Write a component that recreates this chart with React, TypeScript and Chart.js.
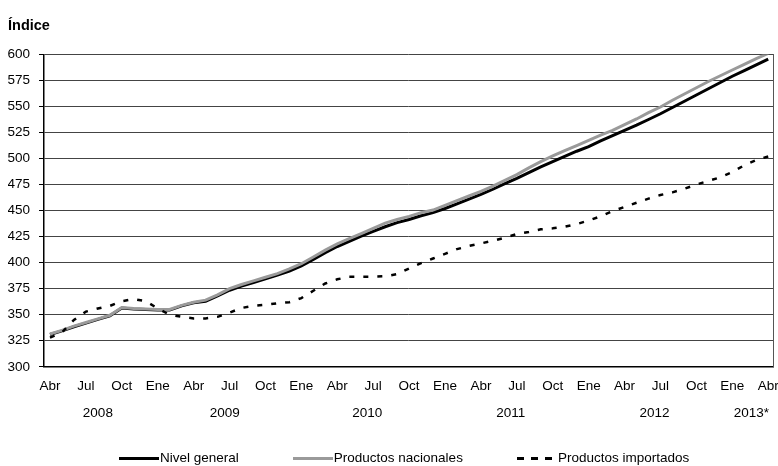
import React, { useEffect, useRef } from 'react';
import { Chart, registerables } from 'chart.js';

Chart.register(...registerables);

// X-axis tick labels (every 3 months, Abr 2008 .. Abr 2013)
const monthTickLabels = [
  'Abr', 'Jul', 'Oct', 'Ene', 'Abr', 'Jul', 'Oct', 'Ene', 'Abr', 'Jul', 'Oct',
  'Ene', 'Abr', 'Jul', 'Oct', 'Ene', 'Abr', 'Jul', 'Oct', 'Ene', 'Abr',
];
const yearLabels = ['2008', '2009', '2010', '2011', '2012', '2013*'];
// month index (0 = Abr 2008) under which each year label sits
const yearTickPositions = [4, 14.6, 26.5, 38.5, 50.5, 58.6];

const seriesNames = ['Nivel general', 'Productos nacionales', 'Productos importados'];

// Monthly values, Abr 2008 .. Abr 2013 (61 months)
const nivelGeneral = [
  331, 334.5, 338.5, 342, 345.5, 349, 356.5, 355.5, 355, 354.5,
  354.5, 358.5, 361.5, 363, 368, 373.5, 377.5, 381, 384.5, 388,
  392, 397, 403, 409.5, 415.5, 420.5, 425.5, 430, 434.5, 438.5,
  441.5, 445, 448, 452, 456.5, 461, 465.5, 470.5, 476, 481,
  486.5, 492, 497, 502, 507, 511.5, 517, 522, 527, 532,
  537.5, 543, 549, 555, 561, 567, 573, 579, 584.5, 590,
  595.5,
];
const productosNacionales = [
  331.5, 335, 339, 342.5, 346, 349.5, 357, 356, 355.5, 355,
  355, 359, 362, 364, 369, 375, 379, 382.5, 386, 389.5,
  394, 399, 405.5, 412, 418, 423, 428, 433, 438, 441.5,
  444.5, 448, 450.5, 455, 459.5, 464, 468.5, 473.5, 479, 484.5,
  491, 497, 502.5, 507.5, 512.5, 517.5, 522.5, 527, 532.5, 538,
  544, 549.5, 556, 562, 568, 574, 579.5, 585, 590.5, 596,
  601,
];
const productosImportados = [
  328, 333, 345, 353, 356, 358.5, 363, 365, 363, 356,
  350, 348, 346.5, 346.5, 348, 352, 356.5, 358.5, 359.5, 361,
  362, 366, 373, 380, 384, 386.5, 386.5, 386.5, 387, 389,
  394.5, 399.5, 404, 408.5, 413, 416, 418.5, 421, 424, 427.5,
  429.5, 432, 433, 434.5, 437, 440.5, 444.5, 449.5, 453.5, 457.5,
  461.5, 465, 467.5, 471, 475, 478.5, 482, 487, 493.5, 498.5,
  502,
];

const FONT = "'Liberation Sans', Arial, Helvetica, sans-serif";

const toPoints = (arr: number[]) => arr.map((y, i) => ({ x: i, y }));

const legendItems = [
  { name: seriesNames[0], sample: { background: '#000' } },
  { name: seriesNames[1], sample: { background: '#9a9a9a' } },
  {
    name: seriesNames[2],
    sample: { background: 'repeating-linear-gradient(to right, #000 0px, #000 7px, transparent 7px, transparent 14px)' },
  },
];

const noSidePadding = (s: any) => {
  s.paddingLeft = 0;
  s.paddingRight = 0;
};

export default function App() {
  const canvasRef = useRef<HTMLCanvasElement | null>(null);

  useEffect(() => {
    document.body.style.margin = '0';
    const canvas = canvasRef.current;
    if (!canvas) return;
    Chart.defaults.font.family = FONT;
    Chart.defaults.color = '#000';

    const chart = new Chart(canvas, {
      type: 'line',
      data: {
        datasets: [
          {
            label: seriesNames[0],
            data: toPoints(nivelGeneral),
            borderColor: '#000',
            backgroundColor: '#000',
            borderWidth: 3,
            pointRadius: 0,
            tension: 0,
            order: 2,
          },
          {
            label: seriesNames[1],
            data: toPoints(productosNacionales),
            borderColor: '#9a9a9a',
            backgroundColor: '#9a9a9a',
            borderWidth: 3,
            pointRadius: 0,
            tension: 0,
            order: 1,
          },
          {
            label: seriesNames[2],
            data: toPoints(productosImportados),
            borderColor: '#000',
            backgroundColor: '#000',
            borderWidth: 2.5,
            borderDash: [5, 9],
            pointRadius: 0,
            tension: 0,
            order: 0,
          },
        ],
      },
      options: {
        responsive: false,
        animation: false,
        layout: { padding: { left: 8, right: 5, top: 0, bottom: 41 } },
        plugins: {
          legend: { display: false },
          tooltip: { enabled: false },
          title: {
            display: true,
            text: 'Índice',
            align: 'start',
            color: '#000',
            font: { size: 14.5, weight: 'bold', family: FONT },
            padding: { top: 17, bottom: 20 },
          },
        },
        scales: {
          x: {
            type: 'linear',
            position: 'bottom',
            min: -0.5,
            max: 60.4,
            afterBuildTicks: (s: any) => {
              s.ticks = monthTickLabels.map((_, i) => ({ value: i * 3 }));
            },
            afterFit: (s: any) => {
              noSidePadding(s);
              s.height = 34;
            },
            ticks: {
              autoSkip: false,
              maxRotation: 0,
              padding: 11,
              color: '#000',
              font: { size: 13.5, family: FONT },
              callback: (_v: any, i: number) => monthTickLabels[i],
            },
            grid: { display: false, drawTicks: false },
            border: { display: true, color: '#000', width: 1.5 },
          },
          xYear: {
            type: 'linear',
            position: 'bottom',
            weight: 1,
            min: -0.5,
            max: 60.4,
            afterBuildTicks: (s: any) => {
              s.ticks = yearTickPositions.map((v) => ({ value: v }));
            },
            afterFit: (s: any) => {
              noSidePadding(s);
            },
            ticks: {
              autoSkip: false,
              maxRotation: 0,
              padding: 4,
              color: '#000',
              font: { size: 13.5, family: FONT },
              callback: (_v: any, i: number) => yearLabels[i],
            },
            grid: { display: false, drawTicks: false },
            border: { display: false },
          },
          y: {
            type: 'linear',
            position: 'left',
            min: 300,
            max: 600,
            afterFit: (s: any) => {
              s.width = 36;
            },
            ticks: {
              stepSize: 25,
              padding: 9,
              color: '#000',
              font: { size: 13.5, family: FONT },
            },
            grid: { color: '#444', lineWidth: 1, drawTicks: true, tickLength: 5, tickColor: '#000' },
            border: { display: true, color: '#000', width: 1.5 },
          },
          yRight: {
            type: 'linear',
            position: 'right',
            min: 300,
            max: 600,
            ticks: { display: false },
            grid: { display: false, drawTicks: false },
            border: { display: true, color: '#555', width: 1 },
          },
        },
      } as any,
    });
    return () => chart.destroy();
  }, []);

  return (
    <div style={{ position: 'relative', width: 778, height: 466 }}>
      <canvas ref={canvasRef} width={778} height={466} style={{ display: 'block', width: 778, height: 466 }} />
      <div
        style={{
          position: 'absolute',
          left: 119,
          top: 450,
          display: 'flex',
          alignItems: 'center',
          gap: 54,
          fontFamily: FONT,
          fontSize: 13.5,
          color: '#000',
          lineHeight: '16px',
          whiteSpace: 'nowrap',
        }}
      >
        {legendItems.map((it) => (
          <div key={it.name} style={{ display: 'flex', alignItems: 'center' }}>
            <div style={{ width: 40, height: 3, ...it.sample }} />
            <span style={{ marginLeft: 1 }}>{it.name}</span>
          </div>
        ))}
      </div>
    </div>
  );
}
